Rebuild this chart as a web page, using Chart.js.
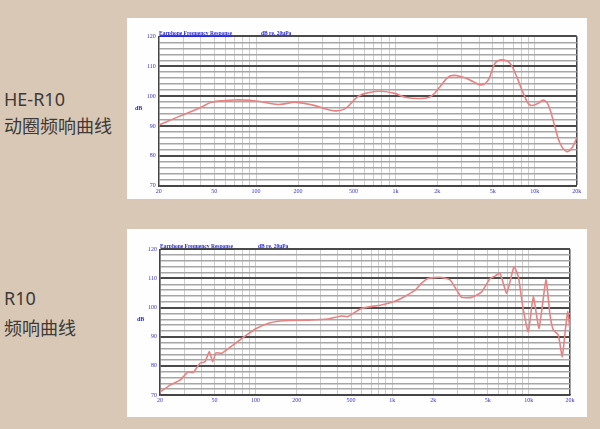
<!DOCTYPE html>
<html>
<head>
<meta charset="utf-8">
<script src="https://cdn.jsdelivr.net/npm/chart.js@4.4.1/dist/chart.umd.min.js"></script>
<style>
body{margin:0;width:600px;height:429px;background:#d9c8b6;position:relative;overflow:hidden;font-family:"Noto Sans","Noto Sans CJK SC",sans-serif}
.panel{position:absolute;left:127px;width:460px;background:#fefefe}
.lbl{position:absolute;left:4px;font-size:18px;line-height:18px;color:#3d3a37;white-space:nowrap}
.hdr{position:absolute;font:bold 5.5px "Liberation Serif",serif;color:#2b2bd6;white-space:nowrap;line-height:6px}
</style>
</head>
<body>
<div class="lbl" style="top:90px">HE-R10</div>
<div class="lbl" style="top:117px">动圈频响曲线</div>
<div class="lbl" style="top:289px">R10</div>
<div class="lbl" style="top:319px">频响曲线</div>

<div class="panel" style="top:18px;height:181px"><canvas id="grafico1" width="460" height="181"></canvas></div>
<div class="panel" style="top:229px;height:188px"><canvas id="grafico2" width="460" height="188"></canvas></div>

<div class="hdr" style="left:159px;top:30px;text-decoration:underline">Earphone Frequency Response</div>
<div class="hdr" style="left:261px;top:30px">dB re. 20μPa</div>
<div class="hdr" style="left:135px;top:105px;font-size:6px">dB</div>
<div class="hdr" style="left:160px;top:243px;text-decoration:underline">Earphone Frequency Response</div>
<div class="hdr" style="left:258px;top:243px">dB re. 20μPa</div>
<div class="hdr" style="left:137px;top:316px;font-size:6px">dB</div>

<script>
// tick layout
let freqTicks = [20, 30, 40, 50, 60, 70, 80, 90, 100, 200, 300, 400, 500, 600, 700, 800, 900,
    1000, 2000, 3000, 4000, 5000, 6000, 7000, 8000, 9000, 10000, 20000]
let labeledFreqs = [20, 50, 100, 200, 500, 1000, 2000, 5000, 10000, 20000]
let freqTickText = ['20', '50', '100', '200', '500', '1k', '2k', '5k', '10k', '20k']
let dbTicks = [70, 72, 74, 76, 78, 80, 82, 84, 86, 88, 90, 92, 94, 96, 98, 100,
    102, 104, 106, 108, 110, 112, 114, 116, 118, 120]
let labeledDb = [70, 80, 90, 100, 110, 120]

// HE-R10 dynamic driver
let freq1 = [20, 25, 31.6, 40, 47.8, 60, 70, 90, 109, 144, 195, 264, 357, 433, 540, 650, 793, 988, 1200, 1535, 1812,
    2090, 2466, 3071, 3624, 4161, 4641, 5187, 5796, 6642, 7417, 8280, 9247, 10600, 11510, 12510, 13960, 15170, 16940, 18410, 20000]
let db1 = [90.3, 92.2, 94.2, 96.2, 97.9, 98.5, 98.7, 98.6, 98.1, 97.2, 97.9, 96.8, 95.1, 95.7, 99.9, 101.2, 101.6, 100.9, 99.5, 99.2, 100.0,
    103.1, 106.7, 106.3, 104.8, 103.7, 105.4, 111.0, 112.1, 111.0, 106.5, 100.9, 97.0, 97.6, 98.7, 97.0, 89.7, 84.2, 81.4, 82.5, 85.9]

// R10
let freq2 = [20, 23.7, 28, 32.2, 35, 39.2, 42.7, 45.9, 48.6, 51.4, 56.5, 68.8, 86.2, 102, 128, 163, 242, 339, 424, 475, 594,
    833, 1102, 1459, 1633, 1828, 2239, 2650, 2966, 3224, 3818, 4519, 5203, 5650, 6152, 6885, 7786, 8378, 9107, 9903,
    10780, 11870, 13340, 14280, 15100, 16420, 17570, 18380, 19230, 20000]
let db2 = [71.0, 73.4, 75.1, 78.0, 77.7, 80.9, 81.4, 84.9, 81.4, 84.5, 84.3, 87.2, 90.6, 92.9, 94.8, 95.5, 95.7, 96.1, 97.1, 96.9, 99.7,
    100.9, 102.6, 105.8, 108.3, 110.0, 110.4, 109.5, 106.0, 103.5, 103.5, 105.4, 110.0, 110.8, 111.8, 104.9, 114.0, 110.6, 99.2, 91.7,
    103.7, 92.9, 109.5, 97.5, 92.3, 90.6, 83.1, 91.2, 98.6, 92.3]

let tickFont = { family: 'Liberation Serif', size: 6 }
let tickColor = '#3535d0'

function grafico(id, freqs, dbs, tension, box) {
    let ctx = document.getElementById(id)
    return new Chart(ctx, {
        type: 'line',
        data: {
            datasets: [{
                data: freqs.map((f, i) => ({ x: f, y: dbs[i] })),
                borderColor: '#e88283',
                borderWidth: 1.6,
                pointRadius: 0,
                tension: tension
            }]
        },
        options: {
            responsive: false,
            animation: false,
            devicePixelRatio: 1,
            layout: { padding: { left: 0, top: box.top, right: box.right, bottom: 0 } },
            plugins: { legend: { display: false }, tooltip: { enabled: false } },
            scales: {
                x: {
                    type: 'logarithmic',
                    min: 20,
                    max: 20000,
                    afterBuildTicks: axis => { axis.ticks = freqTicks.map(v => ({ value: v })) },
                    afterFit: axis => { axis.height = box.xh },
                    ticks: {
                        autoSkip: false,
                        maxRotation: 0,
                        padding: 2,
                        font: tickFont,
                        color: tickColor,
                        callback: value => {
                            let i = labeledFreqs.indexOf(value)
                            return i >= 0 ? freqTickText[i] : ''
                        }
                    },
                    grid: {
                        drawTicks: false,
                        color: c => c.tick && c.tick.value === 20000 ? '#444' : '#cdcdcd',
                        lineWidth: c => c.tick && c.tick.value === 20000 ? 1.5 : 1
                    },
                    border: { color: '#444', width: 1.5 }
                },
                y: {
                    min: 70,
                    max: 120,
                    afterBuildTicks: axis => { axis.ticks = dbTicks.map(v => ({ value: v })) },
                    afterFit: axis => { axis.width = box.yw },
                    ticks: {
                        autoSkip: false,
                        padding: 3,
                        font: tickFont,
                        color: tickColor,
                        callback: value => labeledDb.includes(value) ? value : ''
                    },
                    grid: {
                        drawTicks: false,
                        color: c => c.tick && labeledDb.includes(c.tick.value) ? '#4a4a4a' : '#a6a6a6',
                        lineWidth: c => c.tick && labeledDb.includes(c.tick.value) ? 2 : 1.4
                    },
                    border: { color: '#444', width: 1.5 }
                }
            }
        }
    })
}

grafico('grafico1', freq1, db1, 0.4, { top: 18.3, right: 10.3, yw: 31.7, xh: 13.3 })
grafico('grafico2', freq2, db2, 0.15, { top: 20.3, right: 17, yw: 33, xh: 22 })
</script>
</body>
</html>
